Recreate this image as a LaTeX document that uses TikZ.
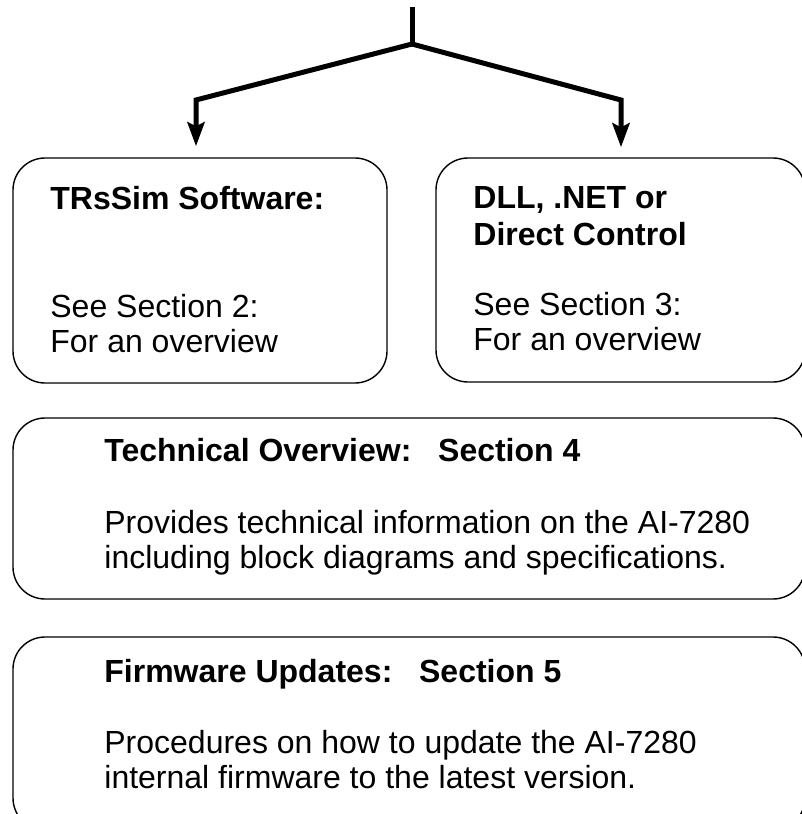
\documentclass[tikz,border=0pt]{standalone}
\usepackage{fontspec}
\setmainfont{Liberation Sans}
\usetikzlibrary{arrows.meta}

\begin{document}
\begin{tikzpicture}[x=0.5pt, y=-0.5pt,
        box/.style={draw, rounded corners=16pt, line width=0.7pt},
        title/.style={anchor=base west, inner sep=0pt, align=left,
            font=\fontsize{16}{18.5}\selectfont\bfseries},
        body/.style={anchor=base west, inner sep=0pt, align=left,
            font=\fontsize{16}{17.5}\selectfont},
        link/.style={line width=2.5pt},
        tip/.style={-{Stealth[length=12pt, width=8.5pt, inset=2pt]}}]
            \useasboundingbox (0, 0) rectangle (802, 814);
            \clip (0, 0) rectangle (802, 814);
            % boxes
            \node[box, minimum width=187pt, minimum height=112.5pt] (sw) at (200, 270.5) {};
            \node[box, minimum width=184.5pt, minimum height=112pt] (dll) at (620.5, 270) {};
            \node[box, minimum width=396pt, minimum height=90.5pt] (tech) at (409, 508.5) {};
            \node[box, minimum width=396pt, minimum height=96.5pt] (fw) at (409, 733.5) {};
            % texts (base = last line)
            \node[title] (swtitle) at (50, 209) {TRsSim Software:};
            \node[body] (swbody) at (50, 352) {See Section 2:\\For an overview};
            \node[title] (dlltitle) at (473, 245) {DLL, .NET or\\Direct Control};
            \node[body] (dllbody) at (473, 350) {See Section 3:\\For an overview};
            \node[title] (techtitle) at (104, 461) {Technical Overview:\ \ \ Section 4};
            \node[body] (techbody) at (104, 568) {Provides technical information on the AI-7280\\including block diagrams and specifications.};
            \node[title] (fwtitle) at (104, 682) {Firmware Updates:\ \ \ Section 5};
            \node[body] (fwbody) at (104, 788) {Procedures on how to update the AI-7280\\internal firmware to the latest version.};
            % connectors
            \coordinate (top) at (412, 7);
            \coordinate (fork) at (412, 44);
            \coordinate (lkink) at (196, 100);
            \coordinate (rkink) at (621, 100);
            \draw[link] (top) -- (fork);
            \draw[link, tip, shorten >=5.5pt] (fork) -- (lkink) -- (lkink |- sw.north);
            \draw[link, tip, shorten >=5pt] (fork) -- (rkink) -- (rkink |- dll.north);
        \end{tikzpicture}
\end{document}
